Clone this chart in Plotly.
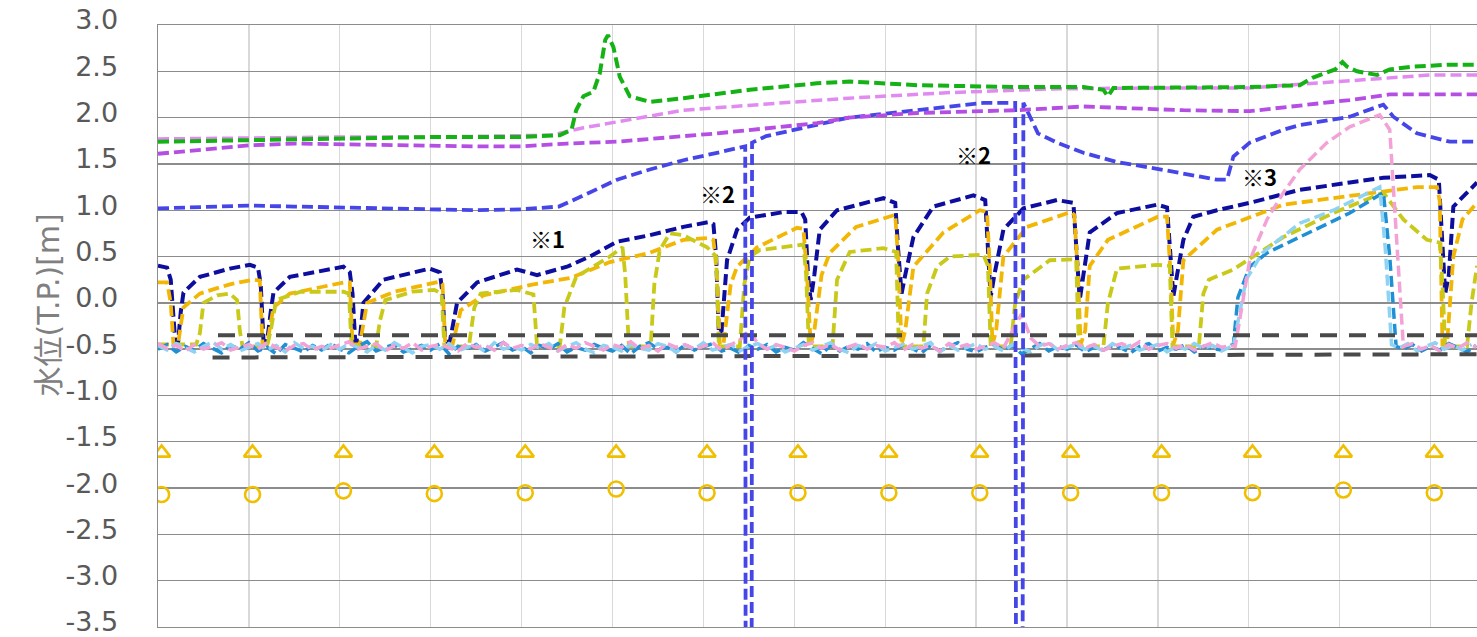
import plotly.graph_objects as go

# ---------------- data (x in days, y = water level T.P. m) ----------------
navy_x = [0.0, 0.10, 0.14, 0.17, 0.19, 0.22, 0.25, 0.28, 0.46, 0.79, 1.01, 1.10, 1.13, 1.16, 1.20, 1.24, 1.27, 1.45, 1.80, 2.04,
          2.11, 2.14, 2.17, 2.22, 2.26, 2.48, 2.99, 3.10, 3.13, 3.16, 3.21, 3.29, 3.51, 3.95, 4.17, 4.50, 4.75, 5.05, 5.41, 5.78,
          6.05, 6.11, 6.14, 6.17, 6.20, 6.26, 6.37, 6.51, 6.88, 7.08, 7.12, 7.15, 7.18, 7.22, 7.28, 7.47, 7.98, 8.11, 8.14, 8.18,
          8.22, 8.31, 8.53, 8.97, 9.10, 9.13, 9.16, 9.20, 9.30, 9.52, 9.89, 10.07, 10.10, 10.14, 10.18, 10.25, 10.55, 10.99, 11.10, 11.13,
          11.17, 11.21, 11.28, 11.39, 11.65, 12.01, 12.56, 13.11, 13.48, 13.99, 14.09, 14.12, 14.16, 14.20, 14.25, 14.51]
navy_y = [0.40, 0.38, 0.25, -0.10, -0.42, -0.44, -0.10, 0.11, 0.28, 0.37, 0.41, 0.38, 0.20, -0.40, -0.42, -0.10, 0.11, 0.28, 0.35, 0.39,
          0.33, 0.10, -0.42, -0.40, 0.00, 0.25, 0.37, 0.33, 0.10, -0.42, -0.42, 0.00, 0.22, 0.36, 0.30, 0.39, 0.50, 0.66, 0.73, 0.82,
          0.87, 0.85, 0.50, -0.33, -0.30, 0.46, 0.79, 0.92, 0.98, 0.98, 0.90, 0.30, 0.03, 0.30, 0.79, 1.00, 1.13, 1.08, 0.60, 0.10,
          0.30, 0.71, 1.04, 1.16, 1.11, 0.60, 0.06, 0.30, 0.79, 1.02, 1.11, 1.08, 0.60, 0.03, 0.30, 0.76, 0.97, 1.06, 1.03, 0.60,
          0.07, 0.30, 0.68, 0.93, 1.00, 1.08, 1.22, 1.30, 1.35, 1.38, 1.33, 0.80, 0.10, 0.30, 1.04, 1.30]

orange_x = [0.0, 0.10, 0.14, 0.17, 0.22, 0.28, 0.46, 0.79, 1.05, 1.12, 1.15, 1.20, 1.27, 1.45, 2.04, 2.11, 2.14, 2.22, 2.30, 2.60,
            3.10, 3.13, 3.16, 3.24, 3.33, 3.58, 4.13, 4.54, 4.97, 5.41, 5.78, 6.05, 6.11, 6.15, 6.18, 6.22, 6.30, 6.37, 6.59, 7.03,
            7.10, 7.14, 7.18, 7.22, 7.30, 7.39, 7.68, 8.11, 8.14, 8.18, 8.22, 8.31, 8.64, 9.04, 9.12, 9.15, 9.18, 9.22, 9.30, 9.56,
            10.04, 10.08, 10.12, 10.15, 10.20, 10.25, 10.45, 11.00, 11.10, 11.14, 11.17, 11.22, 11.28, 11.65, 12.38, 13.11, 13.85, 14.07, 14.10, 14.13,
            14.18, 14.25, 14.35, 14.51]
orange_y = [0.22, 0.22, 0.00, -0.45, -0.45, -0.05, 0.10, 0.20, 0.25, 0.24, -0.45, -0.45, -0.05, 0.10, 0.22, 0.22, -0.45, -0.45, 0.00, 0.12,
            0.23, 0.20, -0.45, -0.45, -0.08, 0.08, 0.20, 0.27, 0.44, 0.54, 0.68, 0.70, 0.68, 0.30, -0.45, -0.45, 0.20, 0.39, 0.60, 0.81,
            0.80, 0.30, -0.45, -0.30, 0.30, 0.54, 0.82, 0.95, 0.50, -0.45, -0.30, 0.39, 0.76, 1.00, 0.98, 0.40, -0.45, -0.30, 0.50, 0.82,
            0.98, 0.95, 0.30, -0.45, -0.30, 0.40, 0.68, 0.93, 0.93, 0.30, -0.45, -0.30, 0.46, 0.79, 1.06, 1.15, 1.25, 1.25, 1.10, -0.45,
            -0.45, 0.50, 0.90, 1.08]

olive_x = [0.0, 0.42, 0.46, 0.50, 0.65, 0.79, 0.87, 0.90, 0.93, 1.20, 1.24, 1.30, 1.57, 2.04, 2.10, 2.13, 2.40, 2.44, 2.50, 2.80,
           3.04, 3.12, 3.15, 3.42, 3.48, 3.55, 3.95, 4.13, 4.17, 4.42, 4.47, 4.60, 4.97, 5.11, 5.14, 5.18, 5.42, 5.46, 5.52, 5.63,
           5.78, 6.04, 6.14, 6.17, 6.40, 6.45, 6.51, 6.62, 7.10, 7.13, 7.16, 7.42, 7.47, 7.61, 7.98, 8.12, 8.15, 8.42, 8.46, 8.57,
           8.71, 9.08, 9.13, 9.16, 9.38, 9.43, 9.52, 9.81, 10.10, 10.13, 10.40, 10.45, 10.55, 10.99, 11.13, 11.16, 11.45, 11.50, 11.56, 11.83,
           12.38, 12.93, 13.48, 13.70, 13.96, 14.10, 14.13, 14.16, 14.40, 14.45, 14.51]
olive_y = [-0.45, -0.45, -0.33, 0.00, 0.08, 0.10, 0.03, -0.30, -0.47, -0.47, -0.30, 0.03, 0.12, 0.12, 0.10, -0.47, -0.47, -0.20, 0.03, 0.12,
           0.14, 0.10, -0.47, -0.47, -0.05, 0.10, 0.14, 0.09, -0.47, -0.47, -0.05, 0.28, 0.50, 0.60, 0.30, -0.47, -0.47, 0.20, 0.57, 0.75,
           0.73, 0.60, 0.50, -0.47, -0.47, 0.20, 0.50, 0.57, 0.63, 0.30, -0.47, -0.47, 0.25, 0.55, 0.59, 0.55, -0.47, -0.47, 0.10, 0.39,
           0.50, 0.52, 0.40, -0.47, -0.47, 0.00, 0.25, 0.46, 0.47, -0.47, -0.47, 0.00, 0.37, 0.41, 0.40, -0.47, -0.47, 0.10, 0.25, 0.36,
           0.71, 0.97, 1.19, 0.90, 0.68, 0.65, 0.20, -0.47, -0.47, 0.00, 0.40]

# noisy base levels, sampled every 0.1 day from day 0.0 to 11.8
base_x = [round(0.1 * i, 1) for i in range(119)]
blue_base = [-0.50, -0.45, -0.53, -0.47, -0.51, -0.44, -0.49, -0.54, -0.46, -0.50,
             -0.43, -0.52, -0.48, -0.55, -0.45, -0.49, -0.53, -0.46, -0.51, -0.44,
             -0.50, -0.54, -0.47, -0.42, -0.52, -0.48, -0.45, -0.53, -0.49, -0.46,
             -0.51, -0.44, -0.55, -0.47, -0.50, -0.45, -0.52, -0.48, -0.43, -0.51,
             -0.47, -0.54, -0.46, -0.50, -0.44, -0.53, -0.48, -0.51, -0.45, -0.49,
             -0.52, -0.46, -0.55, -0.47, -0.43, -0.50, -0.48, -0.53, -0.45, -0.51,
             -0.47, -0.44, -0.52, -0.49, -0.54, -0.46, -0.50, -0.45, -0.53, -0.48,
             -0.51, -0.43, -0.49, -0.55, -0.46, -0.52, -0.47, -0.50, -0.44, -0.53,
             -0.48, -0.51, -0.45, -0.49, -0.54, -0.46, -0.52, -0.47, -0.43, -0.50,
             -0.53, -0.48, -0.45, -0.51, -0.46, -0.55, -0.49, -0.44, -0.52, -0.47,
             -0.50, -0.45, -0.53, -0.48, -0.51, -0.46, -0.49, -0.54, -0.47, -0.44,
             -0.52, -0.48, -0.50, -0.45, -0.53, -0.47, -0.49, -0.51, -0.46]
lblue_base = [-0.46, -0.51, -0.44, -0.49, -0.53, -0.47, -0.42, -0.50, -0.45, -0.52,
              -0.48, -0.44, -0.51, -0.46, -0.53, -0.43, -0.49, -0.47, -0.52, -0.45,
              -0.50, -0.44, -0.48, -0.53, -0.46, -0.51, -0.43, -0.49, -0.54, -0.47,
              -0.45, -0.50, -0.44, -0.52, -0.48, -0.46, -0.53, -0.43, -0.50, -0.47,
              -0.51, -0.45, -0.49, -0.44, -0.52, -0.47, -0.43, -0.50, -0.54, -0.46,
              -0.48, -0.52, -0.45, -0.49, -0.51, -0.44, -0.47, -0.53, -0.46, -0.50,
              -0.43, -0.51, -0.48, -0.45, -0.52, -0.47, -0.44, -0.50, -0.46, -0.53,
              -0.49, -0.45, -0.51, -0.47, -0.43, -0.50, -0.54, -0.46, -0.49, -0.44,
              -0.52, -0.48, -0.45, -0.50, -0.47, -0.43, -0.53, -0.46, -0.51, -0.48,
              -0.44, -0.50, -0.47, -0.52, -0.45, -0.49, -0.53, -0.46, -0.43, -0.51,
              -0.48, -0.45, -0.50, -0.47, -0.52, -0.44, -0.49, -0.46, -0.51, -0.48,
              -0.45, -0.53, -0.47, -0.50, -0.44, -0.49, -0.46, -0.52, -0.47]
pink_base = [-0.44, -0.49, -0.46, -0.52, -0.45, -0.50, -0.47, -0.43, -0.51, -0.48,
             -0.45, -0.50, -0.43, -0.48, -0.52, -0.46, -0.44, -0.51, -0.47, -0.49,
             -0.45, -0.42, -0.50, -0.47, -0.44, -0.52, -0.46, -0.49, -0.43, -0.51,
             -0.47, -0.45, -0.49, -0.52, -0.44, -0.48, -0.46, -0.51, -0.43, -0.49,
             -0.46, -0.50, -0.44, -0.48, -0.52, -0.45, -0.49, -0.43, -0.47, -0.51,
             -0.45, -0.48, -0.42, -0.50, -0.46, -0.52, -0.44, -0.48, -0.45, -0.50,
             -0.47, -0.43, -0.51, -0.46, -0.40, -0.30, -0.44, -0.50, -0.45, -0.48,
             -0.52, -0.46, -0.43, -0.49, -0.45, -0.51, -0.47, -0.44, -0.50, -0.46,
             -0.48, -0.43, -0.51, -0.45, -0.49, -0.46, -0.52, -0.44, -0.48, -0.45,
             -0.50, -0.47, -0.43, -0.49, -0.30, -0.12, -0.38, -0.47, -0.44, -0.50,
             -0.46, -0.43, -0.49, -0.45, -0.51, -0.47, -0.44, -0.48, -0.42, -0.50,
             -0.46, -0.44, -0.49, -0.45, -0.51, -0.47, -0.43, -0.48, -0.46]

blue_rise_x = [11.83, 11.88, 12.01, 12.20, 12.56, 13.11, 13.48, 13.55, 13.62, 13.70, 13.80, 13.90, 14.00, 14.10, 14.20, 14.30, 14.40, 14.50]
blue_rise_y = [-0.45, 0.06, 0.39, 0.54, 0.71, 0.97, 1.19, 0.50, -0.47, -0.50, -0.45, -0.52, -0.47, -0.51, -0.44, -0.49, -0.53, -0.46]
lblue_rise_x = [11.83, 11.97, 12.15, 12.56, 12.93, 13.44, 13.50, 13.57, 13.65, 13.75, 13.85, 13.95, 14.05, 14.15, 14.25, 14.35, 14.45]
lblue_rise_y = [-0.46, 0.25, 0.54, 0.86, 1.00, 1.25, 0.60, -0.45, -0.49, -0.44, -0.52, -0.47, -0.43, -0.50, -0.46, -0.51, -0.45]
pink_rise_x = [11.85, 12.01, 12.20, 12.38, 12.56, 12.86, 13.11, 13.44, 13.55, 13.62, 13.70, 13.80, 13.90, 14.00, 14.10, 14.20, 14.30, 14.40, 14.50]
pink_rise_y = [-0.47, 0.46, 0.90, 1.19, 1.44, 1.73, 1.90, 2.03, 1.87, 0.80, -0.47, -0.44, -0.50, -0.46, -0.52, -0.45, -0.49, -0.43, -0.48]

royal_x = [0.0, 0.5, 1.0, 1.5, 2.0, 2.5, 3.0, 3.5, 4.0, 4.41, 4.66, 5.05, 5.41, 5.78, 6.15, 6.40, 6.46, 6.465, 6.53, 6.535,
           6.69, 7.60, 8.35, 9.08, 9.43, 9.44, 9.51, 9.52, 9.68, 9.89, 10.18, 10.55, 10.92, 11.28, 11.65, 11.76, 11.83, 12.01, 12.38, 12.56,
           13.11, 13.48, 13.59, 13.85, 14.21, 14.51]
royal_y = [1.02, 1.03, 1.05, 1.04, 1.03, 1.02, 1.01, 1.00, 1.01, 1.04, 1.15, 1.33, 1.44, 1.54, 1.62, 1.67, 1.69, -5.0, -5.0, 1.73,
           1.80, 2.00, 2.08, 2.16, 2.16, -5.0, -5.0, 2.16, 1.83, 1.73, 1.62, 1.52, 1.46, 1.40, 1.33, 1.33, 1.58, 1.73, 1.87, 1.92,
           2.01, 2.14, 2.01, 1.83, 1.74, 1.74]

purple_x = [0.0, 0.5, 1.0, 1.5, 2.0, 2.5, 3.0, 3.5, 4.0, 4.5, 5.05, 6.15, 7.25, 7.60, 8.35, 9.45, 10.18, 11.28, 12.01, 12.50, 13.11, 13.55, 14.51]
purple_y = [1.61, 1.66, 1.70, 1.72, 1.71, 1.71, 1.70, 1.69, 1.69, 1.72, 1.74, 1.83, 1.94, 2.00, 2.05, 2.08, 2.12, 2.08, 2.07, 2.12, 2.19, 2.25, 2.25]

violet_x = [0.0, 1.0, 2.0, 3.0, 4.0, 4.32, 4.68, 5.78, 6.88, 7.60, 8.71, 9.81, 10.92, 12.01, 12.56, 13.29, 14.00, 14.51]
violet_y = [1.77, 1.78, 1.79, 1.79, 1.80, 1.81, 1.89, 2.08, 2.16, 2.21, 2.27, 2.31, 2.32, 2.32, 2.36, 2.41, 2.46, 2.46]

green_x = [0.0, 1.0, 2.0, 3.0, 3.95, 4.42, 4.55, 4.60, 4.68, 4.79, 4.86, 4.92, 4.95, 5.01, 5.08, 5.19, 5.41, 5.78, 6.51, 7.25,
           7.61, 8.35, 9.45, 10.18, 10.40, 10.45, 10.51, 11.28, 12.01, 12.56, 12.70, 12.95, 13.03, 13.08, 13.19, 13.41, 13.55, 13.80, 14.18, 14.51]
green_y = [1.74, 1.76, 1.78, 1.79, 1.79, 1.81, 1.87, 2.08, 2.23, 2.28, 2.48, 2.84, 2.89, 2.76, 2.44, 2.23, 2.17, 2.21, 2.30, 2.37,
           2.39, 2.35, 2.33, 2.33, 2.30, 2.23, 2.32, 2.32, 2.33, 2.35, 2.43, 2.52, 2.60, 2.55, 2.50, 2.46, 2.52, 2.55, 2.57, 2.57]

upper_ref_x = [0.66, 14.51]
upper_ref_y = [-0.35, -0.35]
lower_ref_x = [0.60, 14.51]
lower_ref_y = [-0.59, -0.555]

marker_x = [0.04 + k for k in range(15)]
triangle_y = [-1.62] * 15
circle_y = [-2.07, -2.07, -2.03, -2.06, -2.05, -2.01, -2.05, -2.05, -2.05, -2.05, -2.05, -2.05, -2.05, -2.02, -2.05]

notes = ["※1", "※2", "※2", "※3"]
note_x = [4.29, 6.16, 8.97, 12.12]
note_y = [0.70, 1.19, 1.61, 1.37]

tick_vals = [3.0, 2.5, 2.0, 1.5, 1.0, 0.5, 0.0, -0.5, -1.0, -1.5, -2.0, -2.5, -3.0, -3.5]
tick_text = ["3.0", "2.5", "2.0", "1.5", "1.0", "0.5", "0.0", "-0.5", "-1.0", "-1.5", "-2.0", "-2.5", "-3.0", "-3.5"]

# ---------------- figure ----------------
FIG_W, FIG_H = 1477, 637
M_L, M_R, M_T, M_B = 158, 0, 25, 10
PLOT_W = FIG_W - M_L - M_R
PLOT_H = FIG_H - M_T - M_B

fig = go.Figure()

def line(x, y, color, width=3.8, dash="11px,5px"):
    fig.add_trace(go.Scatter(x=x, y=y, mode="lines", showlegend=False, hoverinfo="skip",
                             line=dict(color=color, width=width, dash=dash)))

line(navy_x, navy_y, "#0D0D9E", 4.0)
line(orange_x, orange_y, "#F2B705", 3.8)
line(olive_x, olive_y, "#C9C91A", 3.8)
line(base_x + blue_rise_x, blue_base + blue_rise_y, "#1F8FD6", 3.5)
line(base_x + lblue_rise_x, lblue_base + lblue_rise_y, "#8ED3F2", 3.5)
line(base_x + pink_rise_x, pink_base + pink_rise_y, "#F3A2D6", 3.5)
line(upper_ref_x, upper_ref_y, "#4A4A4A", 4.0, "17px,12px")
line(lower_ref_x, lower_ref_y, "#4A4A4A", 4.0, "17px,12px")
line(royal_x, royal_y, "#4646E8", 3.8)
line(purple_x, purple_y, "#B54EE3", 3.8)
line(violet_x, violet_y, "#E18BF0", 3.5)
line(green_x, green_y, "#15B215", 4.0)

fig.add_trace(go.Scatter(x=marker_x, y=triangle_y, mode="markers", showlegend=False, hoverinfo="skip",
                         marker=dict(symbol="triangle-up-open", size=15, color="#F0C000",
                                     line=dict(width=2.6, color="#F0C000"))))
fig.add_trace(go.Scatter(x=marker_x, y=circle_y, mode="markers", showlegend=False, hoverinfo="skip",
                         marker=dict(symbol="circle-open", size=15, color="#F0C000",
                                     line=dict(width=2.6, color="#F0C000"))))

for t, x, y in zip(notes, note_x, note_y):
    fig.add_annotation(x=x, y=y, text="<b>" + t + "</b>", showarrow=False,
                       font=dict(family="Noto Sans CJK JP, Liberation Sans", size=22, color="#000000"))

fig.add_annotation(xref="paper", yref="paper", x=(28 - M_L) / PLOT_W, y=(FIG_H - M_B - 305) / PLOT_H,
                   text="水位(T.P.)[m]", textangle=-90, showarrow=False,
                   font=dict(family="DejaVu Sans, Noto Sans CJK JP", size=30, color="#808080"))

fig.update_layout(
    width=FIG_W, height=FIG_H,
    margin=dict(l=M_L, r=M_R, t=M_T, b=M_B, autoexpand=False),
    paper_bgcolor="white", plot_bgcolor="white",
    xaxis=dict(range=[0, 14.51], tick0=0, dtick=1, showticklabels=False, showgrid=True, automargin=False,
               gridcolor="#D9D9D9", gridwidth=1.3, zeroline=False, showline=True, mirror=True,
               linecolor="#8C8C8C", linewidth=1.3, ticks=""),
    yaxis=dict(range=[-3.5, 3.0], tickmode="array", tickvals=tick_vals, ticktext=tick_text,
               showgrid=True, automargin=False, ticklabeloverflow="allow",
               gridcolor="#8C8C8C", gridwidth=1.3, zeroline=False, showline=True,
               linecolor="#8C8C8C", linewidth=1.5, ticks="", ticklabelstandoff=33, ticklabelshift=-5,
               tickfont=dict(family="DejaVu Sans", size=27, color="#595959")),
)

# remove the default 8px page margin so the figure fills the window exactly
fig.write_html("out.html", config={"displayModeBar": False, "staticPlot": True},
               post_script="document.body.style.margin='0';document.body.style.overflow='hidden';")
